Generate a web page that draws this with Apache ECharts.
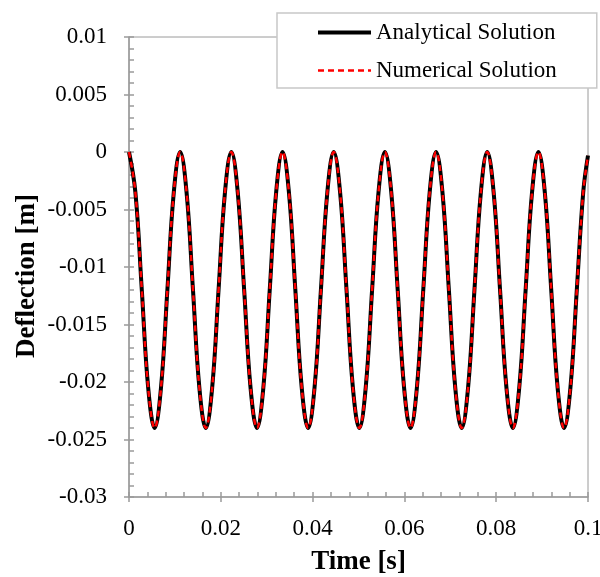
<!DOCTYPE html>
<html>
<head>
<meta charset="utf-8">
<script src="https://cdn.jsdelivr.net/npm/echarts@6/dist/echarts.min.js"></script>
<style>html,body{margin:0;padding:0;background:#fff}#c{width:600px;height:577px}</style>
</head>
<body>
<div id="c"></div>
<script>
// Time samples [s]
const time = [0,0.00139,0.00279,0.00418,0.00558,0.00697,0.00836,0.00976,
0.01115,0.01254,0.01394,0.01533,0.01673,0.01812,0.01951,0.02091,
0.02230,0.02369,0.02509,0.02648,0.02788,0.02927,0.03066,0.03206,
0.03345,0.03484,0.03624,0.03763,0.03903,0.04042,0.04181,0.04321,
0.04460,0.04599,0.04739,0.04878,0.05018,0.05157,0.05296,0.05436,
0.05575,0.05714,0.05854,0.05993,0.06133,0.06272,0.06411,0.06551,
0.06690,0.06829,0.06969,0.07108,0.07248,0.07387,0.07526,0.07666,
0.07805,0.07944,0.08084,0.08223,0.08363,0.08502,0.08641,0.08781,
0.08920,0.09059,0.09199,0.09338,0.09478,0.09617,0.09756,0.09896,0.1];
// Deflection [m]
const analytical = [0,-0.0035,-0.012,-0.0205,-0.024,-0.0205,-0.012,-0.0035,
0,-0.0035,-0.012,-0.0205,-0.024,-0.0205,-0.012,-0.0035,
0,-0.0035,-0.012,-0.0205,-0.024,-0.0205,-0.012,-0.0035,
0,-0.0035,-0.012,-0.0205,-0.024,-0.0205,-0.012,-0.0035,
0,-0.0035,-0.012,-0.0205,-0.024,-0.0205,-0.012,-0.0035,
0,-0.0035,-0.012,-0.0205,-0.024,-0.0205,-0.012,-0.0035,
0,-0.0035,-0.012,-0.0205,-0.024,-0.0205,-0.012,-0.0035,
0,-0.0035,-0.012,-0.0205,-0.024,-0.0205,-0.012,-0.0035,
0,-0.0035,-0.012,-0.0205,-0.024,-0.0205,-0.012,-0.0035,-0.0003];
const numerical = [0,-0.0035,-0.012,-0.0205,-0.024,-0.0205,-0.012,-0.0035,
0,-0.0035,-0.012,-0.0205,-0.024,-0.0205,-0.012,-0.0035,
0,-0.0035,-0.012,-0.0205,-0.024,-0.0205,-0.012,-0.0035,
0,-0.0035,-0.012,-0.0205,-0.024,-0.0205,-0.012,-0.0035,
0,-0.0035,-0.012,-0.0205,-0.024,-0.0205,-0.012,-0.0035,
0,-0.0035,-0.012,-0.0205,-0.024,-0.0205,-0.012,-0.0035,
0,-0.0035,-0.012,-0.0205,-0.024,-0.0205,-0.012,-0.0035,
0,-0.0035,-0.012,-0.0205,-0.024,-0.0205,-0.012,-0.0035,
0,-0.0035,-0.012,-0.0205,-0.024,-0.0205,-0.012,-0.0035,-0.0003];
const seriesNames = ['Analytical Solution','Numerical Solution'];
const xTitle = 'Time [s]';
const yTitle = 'Deflection [m]';

const FONT = '"Liberation Serif","Times New Roman",serif';
const AX = '#9a9a9a';
const pairs = (xs, ys) => xs.map((x, i) => [x, ys[i]]);

const chart = echarts.init(document.getElementById('c'), null, {renderer: 'canvas'});
const xCommon = {type: 'value', min: 0, max: 0.1, interval: 0.02, position: 'bottom', splitLine: {show: false}};
const yCommon = {type: 'value', min: -0.03, max: 0.01, interval: 0.005, position: 'left', splitLine: {show: false}};
chart.setOption({
  animation: false,
  backgroundColor: '#fff',
  textStyle: {fontFamily: FONT},
  grid: {left: 129, right: 12, top: 37, bottom: 80, show: true, borderColor: AX, borderWidth: 1,
         containLabel: false, outerBoundsMode: 'none'},
  legend: {
    left: 277, top: 13, orient: 'vertical',
    backgroundColor: '#fff', borderColor: '#c8c8c8', borderWidth: 1.5, borderRadius: 0,
    padding: [8, 40, 6, 39], itemGap: 15, itemWidth: 53, itemHeight: 22,
    itemStyle: {opacity: 0},
    textStyle: {fontFamily: FONT, fontSize: 23, color: '#000'},
    data: [
      {name: seriesNames[0], lineStyle: {width: 4, color: '#000'}},
      {name: seriesNames[1], lineStyle: {width: 2.5, color: '#ff0000', type: [6, 4]}}
    ]
  },
  xAxis: [
    Object.assign({}, xCommon, {
      name: xTitle, nameLocation: 'middle', nameGap: 52, nameMoveOverlap: false,
      nameTextStyle: {fontFamily: FONT, fontSize: 27, fontWeight: 'bold', color: '#000'},
      axisLine: {onZero: false, lineStyle: {color: AX, width: 1.5}},
      axisTick: {inside: true, length: 5, lineStyle: {color: AX, width: 1.5}},
      minorTick: {show: true, splitNumber: 5, length: 5, lineStyle: {color: AX, width: 1.5}},
      axisLabel: {fontFamily: FONT, fontSize: 23, color: '#000', margin: 20}
    }),
    Object.assign({}, xCommon, {
      axisLine: {show: false, onZero: false}, axisLabel: {show: false},
      axisTick: {inside: false, length: 5, lineStyle: {color: AX, width: 1.5}}
    })
  ],
  yAxis: [
    Object.assign({}, yCommon, {
      name: yTitle, nameLocation: 'middle', nameGap: 88, nameMoveOverlap: false,
      nameTextStyle: {fontFamily: FONT, fontSize: 27, fontWeight: 'bold', color: '#000', padding: [0, 18, 0, 0]},
      axisLine: {onZero: false, lineStyle: {color: AX, width: 1.5}},
      axisTick: {inside: true, length: 5, lineStyle: {color: AX, width: 1.5}},
      minorTick: {show: true, splitNumber: 5, length: 5, lineStyle: {color: AX, width: 1.5}},
      axisLabel: {fontFamily: FONT, fontSize: 23, color: '#000', margin: 22}
    }),
    Object.assign({}, yCommon, {
      axisLine: {show: false, onZero: false}, axisLabel: {show: false},
      axisTick: {inside: false, length: 5, lineStyle: {color: AX, width: 1.5}}
    })
  ],
  series: [
    {name: seriesNames[0], type: 'line', data: pairs(time, analytical), symbol: 'none', smooth: 0.4,
     lineStyle: {color: '#000', width: 4}, itemStyle: {color: '#000'}},
    {name: seriesNames[1], type: 'line', data: pairs(time, numerical), symbol: 'none', smooth: 0.4,
     lineStyle: {color: '#ff0000', width: 2.5, type: [6, 4]}, itemStyle: {color: '#ff0000'}}
  ]
});
</script>
</body>
</html>
